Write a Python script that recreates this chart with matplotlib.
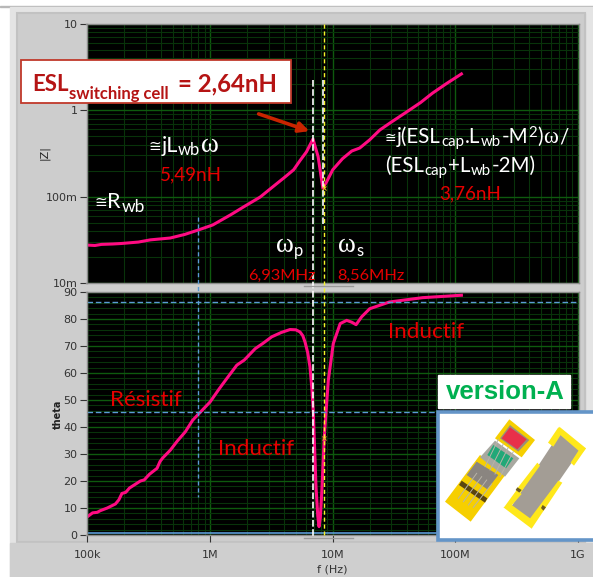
import numpy as np
import matplotlib.pyplot as plt
from matplotlib.patches import Polygon, Rectangle, FancyArrowPatch

# impedance magnitude
z_freq = [1e5, 1.15e5, 1.3e5, 1.6e5, 1.9e5, 2.6e5, 3.26e5, 4.73e5, 6.2e5, 8e5, 1.05e6, 1.46e6,
          1.9e6, 2.56e6, 3.2e6, 4.08e6, 4.8e6, 5.41e6, 6.1e6, 6.9e6, 7.6e6, 8.3e6, 8.9e6, 10e6,
          12e6, 14.3e6, 16.6e6, 20e6, 24.2e6, 30e6, 40e6, 52e6, 65e6, 85e6, 112e6]
z_mag = [0.0275, 0.0272, 0.0280, 0.0283, 0.0287, 0.0298, 0.0316, 0.0332, 0.0365, 0.0411, 0.0470,
         0.0613, 0.0770, 0.099, 0.128, 0.169, 0.205, 0.262, 0.330, 0.465, 0.290, 0.126, 0.148,
         0.205, 0.275, 0.338, 0.366, 0.455, 0.592, 0.730, 0.957, 1.23, 1.58, 2.05, 2.64]

# phase
theta_freq = [1e5, 1.1e5, 1.2e5, 1.27e5, 1.45e5, 1.69e5, 1.8e5, 1.91e5, 2.05e5, 2.2e5, 2.7e5,
              2.9e5, 3.2e5, 3.69e5, 3.9e5, 4.1e5, 4.73e5, 5.4e5, 6.27e5, 7.2e5, 8.05e5, 1e6,
              1.18e6, 1.37e6, 1.65e6, 1.9e6, 2.33e6, 2.7e6, 3.18e6, 3.8e6, 4.48e6, 5.0e6, 5.41e6,
              5.7e6, 5.94e6, 6.25e6, 6.52e6, 6.75e6, 6.95e6, 7.3e6, 7.55e6, 7.73e6, 7.92e6,
              8.13e6, 8.53e6, 9.2e6, 10.1e6, 11.5e6, 13e6, 14.3e6, 15.5e6, 17.2e6, 20e6, 29e6,
              54e6, 112e6]
theta_deg = [6.8, 8.2, 8.4, 9.0, 10.0, 11.5, 13.0, 15.4, 15.8, 17.4, 20.0, 20.4, 22.5, 24.7, 27.2,
             28.5, 31.4, 34.8, 38.2, 42.5, 44.8, 49.3, 54.0, 58.0, 62.9, 64.8, 69.0, 71.0, 73.4,
             75.0, 76.1, 76.0, 75.2, 73.8, 71.5, 67.5, 62.3, 54.5, 45.0, 17.9, 7.0, 3.1, 6.5,
             15.4, 36.4, 57.3, 70.9, 78.3, 79.5, 78.8, 77.9, 80.8, 83.8, 86.3, 87.9, 88.8]

z_ticks = [10, 1, 0.1, 0.01]
z_ticklabels = ["10", "1", "100m", "10m"]
theta_ticks = list(range(0, 100, 10))
freq_ticks = [1e5, 1e6, 1e7, 1e8, 1e9]
freq_ticklabels = ["100k", "1M", "10M", "100M", "1G"]

# cursors
f_blue = 8.05e5
f_white = 6.93e6
f_white2 = 8.3e6
f_yellow = 8.56e6
theta_cursor_hi = 86.3
theta_cursor_mid = 45.5

W, H = 593, 577
PINK = "#ff0a82"
RED = "#e60000"
BLUE = "#5b9bd5"
MAJOR = "#0e5a0e"
MINOR = "#08330a"
SANS = "Lato"
SERIF = "Liberation Serif"
SYM = "DejaVu Sans"


def fx(f):
    return 87 + (np.log10(f) - 5) * 122.75


def make_axes(fig, left, top, right, bottom):
    ax = fig.add_axes([left / W, 1 - bottom / H, (right - left) / W, (bottom - top) / H])
    ax.set_facecolor("black")
    ax.set_xscale("log")
    ax.set_xlim(1e5 * 10 ** (-1 / 122.75), 1e9 * 10 ** (1 / 122.75))
    ax.set_xticks(freq_ticks)
    ax.xaxis.set_minor_locator(plt.LogLocator(base=10, subs=range(2, 10), numticks=20))
    ax.xaxis.set_minor_formatter(plt.NullFormatter())
    ax.grid(True, which="major", color=MAJOR, linewidth=1.0)
    ax.grid(True, which="minor", color=MINOR, linewidth=0.8)
    ax.set_axisbelow(True)
    for s in ax.spines.values():
        s.set_color("#8c8c8c")
        s.set_linewidth(1.0)
    ax.tick_params(which="minor", length=0)
    ax.tick_params(which="major", length=5, width=0.8, color="#333333", labelcolor="#333333",
                   labelsize=8, pad=1.5)
    return ax


def run(fig, ov, x, y, parts, color="white", z=5, **kw):
    # lay pieces of text out one after the other: (text, size, drop in pixels, family, weight)
    renderer = fig.canvas.get_renderer()
    for text, size, dy, family, weight in parts:
        t = ov.text(x, y + dy, text, fontsize=size, family=family, fontweight=weight, color=color,
                    va="baseline", ha="left", zorder=z, **kw)
        x += t.get_window_extent(renderer).width + 0.5


def poly(ov, pts, color, z=6):
    # inset drawing, points taken from the 3x crop of the picture
    pts = [(430 + x / 3, 370 + y / 3) for x, y in pts]
    ov.add_patch(Polygon(pts, closed=True, facecolor=color, edgecolor="none", zorder=z))


def draw_inset(ov):
    ov.add_patch(Rectangle((438, 412), 160, 128, facecolor="white", edgecolor="#6495c8",
                           linewidth=2.6, zorder=5))
    # left module
    poly(ov, [(150, 255), (228, 312), (122, 455), (45, 395)], "#f6cf00")
    poly(ov, [(238, 148), (315, 210), (275, 262), (195, 205)], "#f6cf00")
    poly(ov, [(240, 165), (298, 210), (265, 245), (210, 205)], "#9a8f7a", 7)
    poly(ov, [(240, 172), (290, 208), (262, 238), (215, 205)], "#e8304a", 8)
    poly(ov, [(195, 212), (268, 265), (225, 320), (150, 262)], "#a8a8a0", 7)
    poly(ov, [(190, 225), (250, 265), (228, 295), (172, 255)], "#22a878", 8)
    poly(ov, [(140, 275), (205, 315), (172, 358), (110, 315)], "#8a8580", 7)
    poly(ov, [(95, 332), (172, 385), (165, 398), (87, 345)], "#5a4510", 8)
    for x0, y0, x1, y1 in [(205, 208, 165, 290), (220, 222, 180, 300), (235, 232, 195, 312),
                           (250, 245, 210, 320), (140, 310, 85, 385), (155, 320, 100, 395),
                           (170, 330, 115, 405), (185, 342, 130, 412)]:
        ov.plot([430 + x0 / 3, 430 + x1 / 3], [370 + y0 / 3, 370 + y1 / 3], color="#b8b4a8",
                lw=0.7, zorder=9)
    # right module
    poly(ov, [(390, 188), (455, 235), (305, 452), (245, 408)], "#a39d95", 7)
    yellow = "#ffe81a"
    poly(ov, [(388, 170), (468, 235), (455, 250), (385, 190)], yellow, 8)
    poly(ov, [(468, 235), (432, 287), (422, 278), (452, 232)], yellow, 8)
    poly(ov, [(385, 172), (400, 182), (370, 230), (354, 218)], yellow, 8)
    poly(ov, [(322, 278), (330, 287), (272, 368), (258, 360)], yellow, 8)
    poly(ov, [(260, 360), (275, 372), (240, 412), (222, 412)], yellow, 8)
    poly(ov, [(220, 412), (245, 405), (310, 452), (305, 476)], yellow, 8)
    poly(ov, [(305, 476), (298, 448), (385, 332), (397, 338)], yellow, 8)
    poly(ov, [(262, 352), (275, 360), (268, 368), (257, 360)], "#6b5a20", 9)
    poly(ov, [(338, 405), (348, 412), (340, 422), (333, 414)], "#6b5a20", 9)


def main():
    fig = plt.figure(figsize=(W / 100, H / 100), dpi=100, facecolor="white")

    # panel behind the graphs
    bg = fig.add_axes([0, 0, 1, 1], zorder=0)
    bg.set_xlim(0, W)
    bg.set_ylim(H, 0)
    bg.axis("off")
    bg.add_patch(Rectangle((0, 6), W, 1, color="#b8b8b8"))
    bg.add_patch(Rectangle((10, 7), W - 10, H - 7, color="#e4e4e4"))
    bg.add_patch(Rectangle((17, 13), 568, 529, color="#cdcdcd"))
    bg.add_patch(Rectangle((17, 13), 568, 529, fill=False, edgecolor="#c2c2c2", linewidth=1.5))
    bg.add_patch(Rectangle((10, 543), W - 10, H - 543, color="#cfcfcf"))

    ax_z = make_axes(fig, 86.5, 24, 579, 283)
    ax_z.set_yscale("log")
    ax_z.set_ylim(0.01, 10)
    ax_z.set_yticks(z_ticks, z_ticklabels)
    ax_z.yaxis.set_minor_locator(plt.LogLocator(base=10, subs=range(2, 10), numticks=20))
    ax_z.yaxis.set_minor_formatter(plt.NullFormatter())
    ax_z.tick_params(axis="x", which="major", length=0, labelbottom=False)
    ax_z.plot(z_freq, z_mag, color=PINK, linewidth=2.2, solid_joinstyle="round")

    ax_t = make_axes(fig, 86.5, 292, 579, 535)
    ax_t.set_ylim(0, 90)
    ax_t.set_yticks(theta_ticks)
    ax_t.set_yticks(np.arange(0, 90, 2), minor=True)
    ax_t.set_xticks(freq_ticks, freq_ticklabels)
    ax_t.tick_params(axis="x", which="major", pad=6)
    ax_t.plot(theta_freq, theta_deg, color=PINK, linewidth=2.2, solid_joinstyle="round")
    ax_t.axhline(theta_cursor_hi, color=BLUE, linestyle=(0, (4, 2)), linewidth=1.0)
    ax_t.axhline(theta_cursor_mid, color=BLUE, linestyle=(0, (4, 2)), linewidth=1.0)
    ax_t.axhline(0.6, color=BLUE, linewidth=1.2)

    # everything that sits over both graphs
    ov = fig.add_axes([0, 0, 1, 1], zorder=5)
    ov.set_xlim(0, W)
    ov.set_ylim(H, 0)
    ov.axis("off")

    ov.plot([fx(f_blue)] * 2, [217, 497], color=BLUE, linestyle=(0, (3, 2)), linewidth=1.0)
    ov.plot([fx(f_yellow)] * 2, [24, 535], color="#f5f52a", linestyle=(0, (3, 2)), linewidth=1.0)
    ov.plot([fx(f_white)] * 2, [80, 537], color="white", linestyle=(0, (4, 1.5)), linewidth=1.2)
    ov.plot([fx(f_white2)] * 2, [80, 224], color="white", linestyle=(0, (4, 1.5)), linewidth=1.2)
    ov.plot([fx(f_yellow)] * 2, [188, 438], linestyle="none", marker="x", color="#f0c020", ms=3,
            mew=0.7)
    # scrollbar marks
    ov.plot([304, 353], [286, 286], color="#9a9a9a", lw=1.0)
    ov.plot([304, 353], [538, 538], color="#9a9a9a", lw=1.0)

    ov.text(44, 153, "|Z|", rotation=90, ha="center", va="center", fontsize=8, color="#222222",
            family="DejaVu Sans")
    ov.text(58, 414, "theta", rotation=90, ha="center", va="center", fontsize=7, color="#222222",
            family="DejaVu Sans", fontweight="bold")
    ov.text(332, 570, "f (Hz)", ha="center", va="center", fontsize=8, color="#333333",
            family="DejaVu Sans")

    big, sub = 15.5, 12
    run(fig, ov, 148, 152, [("≅", 11, -1, SYM, "normal"), ("jL", big, 0, SANS, "normal"),
                            ("wb", sub, 3, SANS, "normal"), ("ω", big + 4, 0, SERIF, "normal")])
    run(fig, ov, 94, 208, [("≅", 11, -1, SYM, "normal"), ("R", big, 0, SANS, "normal"),
                           ("wb", sub + 0.5, 4, SANS, "normal")])
    run(fig, ov, 276, 252, [("ω", big + 4, 0, SERIF, "normal"), ("p", sub, 4, SANS, "normal")])
    run(fig, ov, 338, 252, [("ω", big + 4, 0, SERIF, "normal"), ("s", sub, 4, SANS, "normal")])
    form, fsub = 14.8, 10.8
    run(fig, ov, 385, 143, [("≅", 10, -1, SYM, "normal"), ("j(ESL", form, 0, SANS, "normal"),
                            ("cap", fsub, 3, SANS, "normal"), (".L", form, 0, SANS, "normal"),
                            ("wb", fsub, 3, SANS, "normal"), ("-M", form, 0, SANS, "normal"),
                            ("2", fsub, -6, SANS, "normal"), (")", form, 0, SANS, "normal"),
                            ("ω", form + 1.5, 0, SERIF, "normal"), ("/", form, 0, SANS, "normal")])
    run(fig, ov, 385, 172, [("(ESL", form, 0, SANS, "normal"), ("cap", fsub, 3, SANS, "normal"),
                            ("+L", form, 0, SANS, "normal"), ("wb", fsub, 3, SANS, "normal"),
                            ("-2M)", form, 0, SANS, "normal")])

    red = dict(color=RED, family=SANS, va="center", ha="center")
    ov.text(191, 175, "5,49nH", fontsize=13.5, **red)
    ov.text(470, 194, "3,76nH", fontsize=13.5, **red)
    ov.text(282, 276, "6,93MHz", fontsize=11.8, **red)
    ov.text(371, 276, "8,56MHz", fontsize=11.8, **red)
    ov.text(146, 400, "Résistif", fontsize=16.2, **red)
    ov.text(256, 449, "Inductif", fontsize=16.2, **red)
    ov.text(426, 332, "Inductif", fontsize=16.2, **red)

    # callout
    ov.add_patch(Rectangle((21, 60), 270, 43, facecolor="white", edgecolor="#c0392b", linewidth=1.3,
                           zorder=4))
    run(fig, ov, 32, 91, [("ESL", 16, 0, SANS, "bold"), ("switching cell", 12, 8, SANS, "bold")],
        color="#b51414")
    ov.text(178, 91, "= 2,64nH", fontsize=17.3, family=SANS, fontweight="bold", color="#b51414",
            va="baseline", zorder=5)
    ov.add_patch(FancyArrowPatch((256, 113), (312, 132), arrowstyle="-|>", mutation_scale=15,
                                 color="#c92400", linewidth=2.6, zorder=5))

    # version label and inset picture
    ov.add_patch(Rectangle((438, 375), 132, 33, color="white", zorder=4))
    ov.text(505, 392, "version-A", fontsize=18.5, color="#00b050", fontweight="bold",
            family="Liberation Sans", ha="center", va="center", zorder=5)
    draw_inset(ov)
    ov.set_xlim(0, W)
    ov.set_ylim(H, 0)

    fig.savefig("out.png", dpi=100)


if __name__ == "__main__":
    main()
